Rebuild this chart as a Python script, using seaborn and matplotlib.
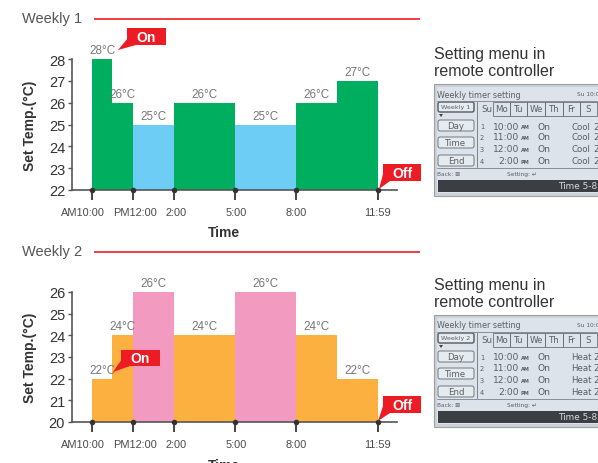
import matplotlib
matplotlib.use("Agg")
import matplotlib.pyplot as plt
import matplotlib.transforms as mtransforms
from matplotlib import font_manager
from matplotlib.patches import Rectangle, Polygon, FancyBboxPatch
import seaborn as sns
import pandas as pd

# ---------------- data ----------------
tick_hours = [10, 12, 14, 17, 20, 23.98]
tick_labels = ["AM10:00", "PM12:00", "2:00", "5:00", "8:00", "11:59"]
seg_start = [10, 11, 12, 14, 17, 20, 22]
seg_end = [11, 12, 14, 17, 20, 22, 24]
w1_temps = [28, 26, 25, 26, 25, 26, 27]
w1_group = ["high", "high", "low", "high", "low", "high", "high"]
w2_temps = [22, 24, 26, 24, 26, 24, 22]
w2_group = ["base", "base", "peak", "base", "peak", "base", "base"]
w1_yticks = [22, 23, 24, 25, 26, 27, 28]
w2_yticks = [20, 21, 22, 23, 24, 25, 26]

remote_days = ["Su", "Mo", "Tu", "We", "Th", "Fr", "Sa"]
remote_times = ["10:00", "11:00", "12:00", "2:00"]
remote_ampm = ["AM", "AM", "AM", "PM"]
w1_mode = "Cool"
w2_mode = "Heat"

GREEN = "#00ae5f"
BLUE = "#6dcdf5"
ORANGE = "#fbb040"
PINK = "#f39ac1"
RED = "#ed1c24"

sns.set_style("white")
names = {f.name for f in font_manager.fontManager.ttflist}
HAS_NARROW = "Liberation Sans Narrow" in names
plt.rcParams["font.family"] = ["Liberation Sans", "DejaVu Sans"]
NARROW = ["Liberation Sans Narrow", "Liberation Sans"] if HAS_NARROW else ["Liberation Sans", "DejaVu Sans"]
NS_TICK = 9.6 if HAS_NARROW else 7.9
NS_VAL = 10 if HAS_NARROW else 8.4

fig = plt.figure(figsize=(5.98, 4.64), dpi=100)
W, H = 598.0, 464.0


def make_axes(top_px, bottom_px):
    return fig.add_axes([72 / W, 1 - bottom_px / H, (397 - 72) / W, (bottom_px - top_px) / H])


def draw_chart(ax, temps, groups, palette, yticks, xlabel_y):
    edges = seg_start + [seg_end[-1]]
    df = pd.DataFrame({
        "mid": [(s + e) / 2 for s, e in zip(seg_start, seg_end)],
        "temp": temps,
        "group": groups,
    })
    sns.histplot(data=df, x="mid", weights="temp", bins=edges, hue="group",
                 palette=palette, multiple="layer", alpha=1, linewidth=0,
                 legend=False, ax=ax)
    ax.set_xlim(9.02, 24.93)
    ax.set_ylim(yticks[0], yticks[-1])
    ax.set_yticks(yticks)
    ax.set_xticks(tick_hours)
    ax.tick_params(axis="x", direction="out", length=7, width=1.4, color="#444", pad=5, bottom=True)
    ax.tick_params(axis="y", direction="out", length=3, width=1.0, color="#555", pad=2, left=True)
    ax.set_xticklabels(tick_labels, fontfamily=NARROW, fontsize=NS_TICK, color="#4a4a4a")
    labs = ax.get_xticklabels()
    shifts = [-9, 2, 2, 1, 0, 0]
    for lab, sh in zip(labs, shifts):
        lab.set_transform(lab.get_transform() +
                          mtransforms.ScaledTranslation(sh / 100.0, 0, fig.dpi_scale_trans))
    for lab in ax.get_yticklabels():
        lab.set_fontsize(10.5)
        lab.set_color("#333")
    for side in ["top", "right"]:
        ax.spines[side].set_visible(False)
    for side in ["left", "bottom"]:
        ax.spines[side].set_color("#555")
        ax.spines[side].set_linewidth(1.2)
    ax.set_ylabel("Set Temp.(°C)", fontsize=10, fontweight="bold", color="#333")
    ax.yaxis.set_label_coords(-0.108, 0.5)
    ax.set_xlabel("Time", fontsize=10, fontweight="bold", color="#333")
    ax.xaxis.set_label_coords(0.468, xlabel_y)
    sns.scatterplot(x=tick_hours, y=[yticks[0]] * len(tick_hours), ax=ax, color="#333",
                    s=16, linewidth=0, clip_on=False, zorder=6, legend=False)
    for s, e, t in zip(seg_start, seg_end, temps):
        ax.annotate(f"{t}°C", xy=((s + e) / 2, t), xytext=(0, 9), textcoords="offset pixels",
                    ha="center", va="center", fontfamily=NARROW, fontsize=NS_VAL, color="#777",
                    annotation_clip=False)


ax1 = make_axes(60, 191)
draw_chart(ax1, w1_temps, w1_group, {"high": GREEN, "low": BLUE}, w1_yticks, -0.268)
ax2 = make_axes(293, 423)
draw_chart(ax2, w2_temps, w2_group, {"base": ORANGE, "peak": PINK}, w2_yticks, -0.277)

# --------------- overlay (pixel coordinates) ---------------
ov = fig.add_axes([0, 0, 1, 1])
ov.set_xlim(0, W)
ov.set_ylim(H, 0)
ov.axis("off")


def header(y, label):
    ov.text(22, y, label, fontsize=10.5, color="#555", va="center", ha="left")
    ov.plot([94, 420], [y + 1, y + 1], color=RED, lw=1.2, solid_capstyle="butt")


header(19, "Weekly 1")
header(252, "Weekly 2")


def callout(box, tri, label):
    x0, y0, x1, y1 = box
    ov.add_patch(Polygon(tri, closed=True, fc=RED, ec="none", zorder=10))
    ov.add_patch(Rectangle((x0, y0), x1 - x0, y1 - y0, fc=RED, ec="none", zorder=10))
    ov.text((x0 + x1) / 2, (y0 + y1) / 2 + 0.5, label, color="white", fontsize=10,
            fontweight="bold", ha="center", va="center", zorder=11)


callout((127, 29, 166, 46), [(128, 39), (136, 46), (118, 51)], "On")
callout((383, 165, 421, 182), [(383, 175), (390, 182), (379, 190)], "Off")
callout((121, 351, 160, 367), [(122, 360), (130, 367), (113, 373)], "On")
callout((383, 397, 421, 414), [(383, 407), (390, 414), (378, 422)], "Off")

LCD_TXT = "#5a5f66"


def draw_panel(dy, weekly_name, mode, temps):
    ov.text(434, 55 + dy, "Setting menu in", fontsize=11.5, color="#333", va="center")
    ov.text(434, 72 + dy, "remote controller", fontsize=11.5, color="#333", va="center")
    ov.add_patch(Rectangle((434, 85 + dy), 180, 112, fc="#cdd1d6", ec="#9aa0a6", lw=0.8))
    ov.add_patch(Rectangle((436.5, 87.5 + dy), 180, 106, fc="#dde3ea", ec="none"))
    ov.text(437, 95 + dy, "Weekly timer setting", fontsize=5.8, color=LCD_TXT, va="center",
            family="DejaVu Sans")
    ov.text(577, 95 + dy, "Su 10:00", fontsize=4.2, color=LCD_TXT, va="center",
            family="DejaVu Sans")
    ov.plot([437, 600], [102 + dy, 102 + dy], color="#7d838a", lw=0.6)
    # buttons
    btns = [(weekly_name, 103, 113, 4.6, 1.1), ("Day", 121, 132, 6.2, 0.6),
            ("Time", 138, 149, 6.2, 0.6), ("End", 156, 167, 6.2, 0.6)]
    for txt, ya, yb, fs, lw in btns:
        ov.add_patch(FancyBboxPatch((438, ya + dy), 36, yb - ya,
                                    boxstyle="round,pad=0,rounding_size=2",
                                    fc="#e6ebf0", ec="#5f656c", lw=lw))
        ov.text(456, (ya + yb) / 2 + dy, txt, fontsize=fs, color=LCD_TXT, ha="center",
                va="center", family="DejaVu Sans")
    ov.add_patch(Polygon([(439, 115 + dy), (443, 115 + dy), (441, 118 + dy)], fc="#444", ec="none"))
    ov.plot([477, 477], [103 + dy, 168 + dy], color="#7d838a", lw=0.7)
    # day tabs
    tab_edges = [480, 493, 510, 527, 545, 563, 580, 597]
    for i, d in enumerate(remote_days):
        xa, xb = tab_edges[i], tab_edges[i + 1]
        if i > 0:
            ov.add_patch(Rectangle((xa, 103 + dy), xb - xa, 14, fc="none", ec="#6a7077", lw=0.6))
        lab = d if i < 6 else "S"
        ov.text((xa + xb) / 2, 110 + dy, lab, fontsize=6.2, color=LCD_TXT, ha="center",
                va="center", family="DejaVu Sans")
    # rows
    row_y = [127, 138, 150, 162]
    for i, (tm, ap, tp) in enumerate(zip(remote_times, remote_ampm, temps)):
        y = row_y[i] + dy
        ov.text(482, y, str(i + 1), fontsize=4.8, color=LCD_TXT, ha="center", va="center",
                family="DejaVu Sans")
        ov.text(519, y, tm, fontsize=6.6, color=LCD_TXT, ha="right", va="center",
                family="DejaVu Sans")
        ov.text(520.5, y + 0.5, ap, fontsize=3.6, color=LCD_TXT, ha="left", va="center",
                fontweight="bold", family="DejaVu Sans")
        ov.text(538, y, "On", fontsize=6.6, color=LCD_TXT, ha="left", va="center",
                family="DejaVu Sans")
        ov.text(571, y, mode, fontsize=6.2, color=LCD_TXT, ha="left", va="center",
                family="DejaVu Sans")
        ov.text(593, y, str(tp), fontsize=6.6, color=LCD_TXT, ha="left", va="center",
                family="DejaVu Sans")
    ov.plot([437, 600], [169 + dy, 169 + dy], color="#7d838a", lw=0.6)
    ov.text(437, 174.5 + dy, "Back: ⊠", fontsize=4.2, color=LCD_TXT, va="center",
            family="DejaVu Sans")
    ov.text(507, 174.5 + dy, "Setting: ↵", fontsize=4.2, color=LCD_TXT, va="center",
            family="DejaVu Sans")
    ov.add_patch(Rectangle((438, 181 + dy), 170, 11.5, fc="#3b3e42", ec="none"))
    ov.text(558, 186.8 + dy, "Time 5-8", fontsize=6.4, color="#d5dbe1", va="center",
            family="DejaVu Sans")


draw_panel(0, "Weekly 1", w1_mode, w1_temps[:4])
draw_panel(231, "Weekly 2", w2_mode, w2_temps[:4])

fig.savefig("out.png", dpi=100)
